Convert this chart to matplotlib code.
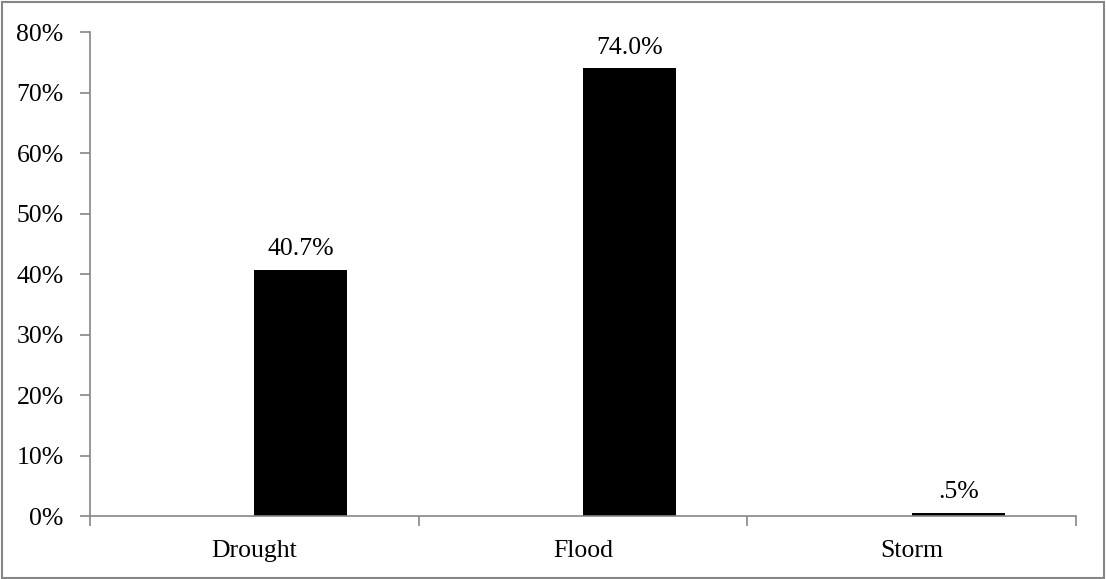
import matplotlib.pyplot as plt
from matplotlib.patches import Rectangle
from matplotlib.ticker import FixedLocator, PercentFormatter

categories = ['Drought', 'Flood', 'Storm']
values = [40.7, 74.0, 0.5]
value_labels = ['40.7%', '74.0%', '.5%']

plt.rcParams['font.family'] = ['Liberation Serif', 'DejaVu Serif']
grey = '#868686'
fs = 18.5

fig = plt.figure(figsize=(11.06, 5.79), dpi=100)
ax = fig.add_axes([0.0814, 0.1088, 0.8915, 0.8359])

x = list(range(len(categories)))
bar_w = 0.283
bars = ax.bar(x, values, width=bar_w, align='edge', color='black')

for b, lab in zip(bars, value_labels):
    ax.annotate(lab, (b.get_x() + b.get_width() / 2, b.get_height()),
                xytext=(0, 7), textcoords='offset points',
                ha='center', va='bottom', fontsize=fs)

ax.set_xlim(-0.5, len(categories) - 0.5)
ax.set_ylim(0, 80)
ax.set_yticks(range(0, 81, 10))
ax.yaxis.set_major_formatter(PercentFormatter(decimals=0))

# category boundaries carry the tick marks, names sit centred between them
ax.set_xticks([i - 0.5 for i in range(len(categories) + 1)])
ax.set_xticklabels([])
ax.xaxis.set_minor_locator(FixedLocator(x))
ax.set_xticklabels(categories, minor=True)
ax.tick_params(axis='x', which='minor', length=0, pad=17, labelsize=fs)
ax.tick_params(axis='x', which='major', length=7, color=grey, width=1.2)
ax.tick_params(axis='y', length=7, color=grey, width=1.2, pad=12, labelsize=fs)

for side in ['top', 'right']:
    ax.spines[side].set_visible(False)
for side in ['left', 'bottom']:
    ax.spines[side].set_color(grey)
    ax.spines[side].set_linewidth(1.2)

# thin frame round the whole figure
fig.patches.append(Rectangle((0.002, 0.002), 0.996, 0.995, transform=fig.transFigure,
                             fill=False, edgecolor=grey, linewidth=1.5))

fig.savefig('out.png', dpi=100)
